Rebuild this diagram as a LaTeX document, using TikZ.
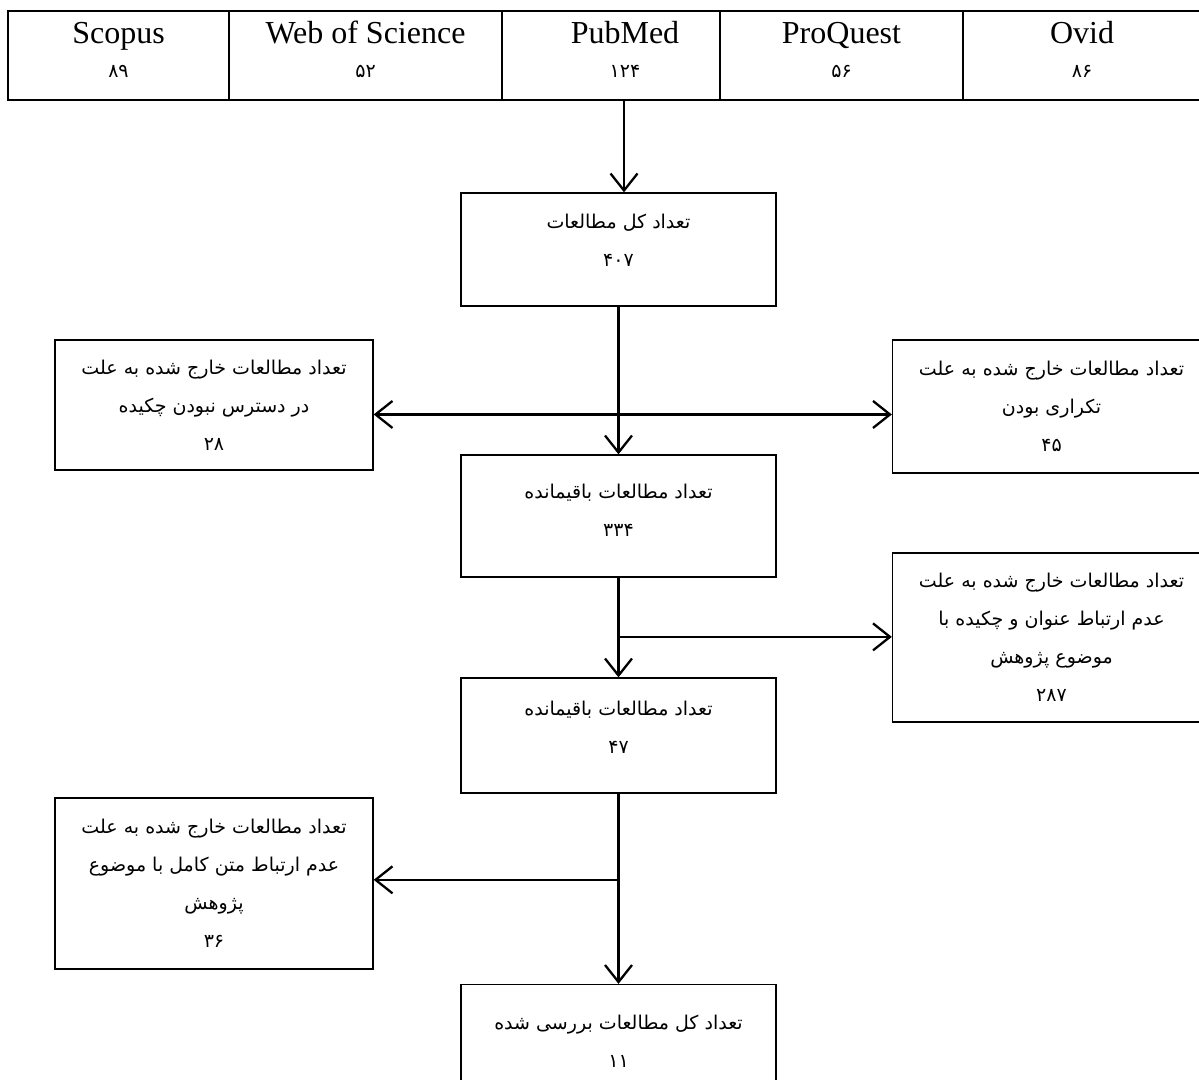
\documentclass[tikz,border=0pt]{standalone}
\usepackage{fontspec}
\setmainfont{Liberation Serif}
\newfontfamily\farsi[Script=Arabic]{DejaVu Sans}
\TeXXeTstate=1
\usetikzlibrary{arrows.meta,positioning,calc}
\newcommand{\fa}[1]{\beginR #1\endR}
\newcommand{\dbnum}[1]{{\farsi\fontsize{19}{20}\selectfont #1}}

\begin{document}
\begin{tikzpicture}[x=1pt,y=-1pt,
  db/.style={draw,line width=2.8pt,minimum height=89pt,inner sep=0pt,align=center,
    font=\fontsize{32}{34}\selectfont},
  bx/.style={draw,line width=1.3pt,minimum width=315pt,inner sep=0pt,align=center,
    font=\farsi\fontsize{19}{38}\selectfont},
  sbx/.style={bx,minimum width=318pt},
  arr/.style={line width=2.3pt,-{Straight Barb[length=17pt,width=27pt]}}
]
\useasboundingbox (0,0) rectangle (1199,1079);
\clip (0,0) rectangle (1199,1079);
% databases
\node[db,minimum width=221pt] (scopus) at (118.5,55.5) {Scopus\\\dbnum{۸۹}\\[-22pt]};
\node[db,minimum width=273pt] (wos) at (365.5,55.5) {Web of Science\\\dbnum{۵۲}\\[-22pt]};
\node[db,minimum width=218pt] (pubmed) at (611,55.5) {\hspace*{28pt}PubMed\\\hspace*{28pt}\dbnum{۱۲۴}\\[-22pt]};
\node[db,minimum width=243pt] (proquest) at (841.5,55.5) {ProQuest\\\dbnum{۵۶}\\[-22pt]};
\node[db,minimum width=238pt] (ovid) at (1082,55.5) {Ovid\\\dbnum{۸۶}\\[-22pt]};
% main column
\node[bx,minimum height=113pt] (tot) at (618.5,249.5) {\fa{تعداد کل مطالعات}\\۴۰۷\\[-20pt]};
\node[bx,minimum height=122pt] (rem1) at (618.5,516) {\fa{تعداد مطالعات باقیمانده}\\۳۳۴\\[-26pt]};
\node[bx,minimum height=115pt] (rem2) at (618.5,735.5) {\fa{تعداد مطالعات باقیمانده}\\۴۷\\[-22pt]};
\node[bx,minimum height=113pt] (fin) at (618.5,1041) {\fa{تعداد کل مطالعات بررسی شده}\\۱۱};
% excluded
\node[sbx,minimum height=130pt] (exL) at (214,405)
  {\fa{تعداد مطالعات خارج شده به علت}\\\fa{در دسترس نبودن چکیده}\\۲۸};
\node[sbx,minimum height=133pt] (exR) at (1051.5,406.5)
  {\fa{تعداد مطالعات خارج شده به علت}\\\fa{تکراری بودن}\\۴۵};
\node[sbx,minimum height=169pt] (exR2) at (1051.5,637.5)
  {\fa{تعداد مطالعات خارج شده به علت}\\\fa{عدم ارتباط  عنوان و چکیده با}\\\fa{موضوع پژوهش}\\۲۸۷};
\node[sbx,minimum height=171pt] (exL2) at (214,883.5)
  {\fa{تعداد مطالعات خارج شده به علت}\\\fa{عدم ارتباط متن کامل با موضوع}\\\fa{پژوهش}\\۳۶};
% flow
\draw[arr] ([xshift=13pt]pubmed.south) -- ([xshift=13pt]pubmed.south |- tot.north);
\draw[arr] (tot) -- (rem1);
\draw[arr] (rem1) -- (rem2);
\draw[arr] (rem2) -- (fin);
\coordinate (j1) at ($(tot.south)!0.73!(rem1.north)$);
\coordinate (j2) at ($(rem1.south)!0.594!(rem2.north)$);
\coordinate (j3) at ($(rem2.south)!0.453!(fin.north)$);
\draw[arr] (j1) -- (j1 -| exL.east);
\draw[arr] (j1) -- (j1 -| exR.west);
\draw[arr] (j2) -- (j2 -| exR2.west);
\draw[arr] (j3) -- (j3 -| exL2.east);
\end{tikzpicture}
\end{document}
